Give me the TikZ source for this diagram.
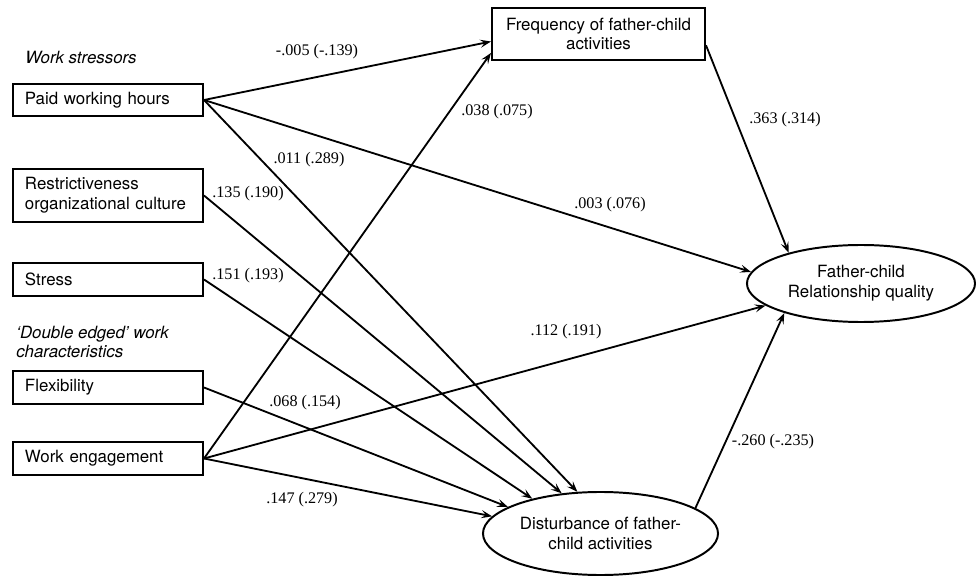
\documentclass[tikz,border=0pt]{standalone}
\usepackage{fontspec}
\setmainfont{Liberation Serif}
\setsansfont{TeX Gyre Heros}
\usetikzlibrary{arrows.meta,positioning,shapes.geometric}
\tikzset{
  varbox/.style={draw, line width=1.4pt, rectangle, anchor=west, minimum height=0.82cm,
    inner xsep=0.3cm, inner ysep=0pt, text width=4.15cm, align=left,
    font=\sffamily\fontsize{12}{14}\selectfont},
  medbox/.style={draw, line width=1.4pt, rectangle, minimum width=5.325cm, minimum height=1.3cm,
    inner sep=0pt, align=center, font=\sffamily\fontsize{12}{14}\selectfont},
  outcome/.style={draw, line width=1.4pt, ellipse, inner sep=0pt, align=center,
    font=\sffamily\fontsize{12}{14}\selectfont},
  grouphead/.style={anchor=west, align=left, inner sep=0pt,
    font=\sffamily\itshape\fontsize{12}{14}\selectfont},
  coef/.style={inner sep=0pt, font=\fontsize{11.5}{13}\selectfont},
  pathln/.style={-{Stealth[length=2.7mm,width=2mm,inset=1.1mm]}, line width=1.3pt},
}

\begin{document}
\begin{tikzpicture}[x=0.025cm, y=-0.025cm]
    \useasboundingbox (0,0) rectangle (976,577);
    % Group headings
    \node[grouphead] (hstress) at (25,57) {Work stressors};
    \node[grouphead] (hdouble) at (16,342) {`Double edged' work\\characteristics};
    % Predictors
    \node[varbox] (paid) at (12,100) {Paid working hours};
    \node[varbox, minimum height=1.325cm] (restr) at (12,195.5) {Restrictiveness\\organizational culture};
    \node[varbox] (stress) at (12,279.5) {Stress};
    \node[varbox] (flex) at (12,387.5) {Flexibility};
    \node[varbox] (engage) at (12,458.5) {Work engagement};
    % Mediators and outcome
    \node[medbox] (freq) at (598.5,34) {Frequency of father-child\\activities};
    \node[outcome, minimum width=5.875cm, minimum height=2.075cm] (disturb) at (600.5,533.5) {Disturbance of father-\\child activities};
    \node[outcome, minimum width=5.7cm, minimum height=1.925cm] (quality) at (861,283.5) {Father-child\\Relationship quality};
    % Paths to frequency
    \draw[pathln] (paid.east) -- (freq.184.5);
    \draw[pathln] (engage.east) -- (freq.190.7);
    % Paths to disturbance
    \draw[pathln] (paid.east) -- (disturb.119.5);
    \draw[pathln] (restr.east) -- (disturb.134.3);
    \draw[pathln] (stress.east) -- (disturb.153.9);
    \draw[pathln] (flex.east) -- (disturb.164.3);
    \draw[pathln] (engage.east) -- (disturb.171.5);
    % Paths to relationship quality
    \draw[pathln] (paid.east) -- (quality.174);
    \draw[pathln] (engage.east) -- (quality.193);
    \draw[pathln] (freq.354) -- (quality.157);
    \draw[pathln] (disturb.15.4) -- (quality.201.5);
    % Coefficients
    \node[coef] (cpf) at (317,52) {-.005 (-.139)};
    \node[coef] (cpd) at (309,160) {.011 (.289)};
    \node[coef] (crd) at (248,194) {.135 (.190)};
    \node[coef] (csd) at (248,276) {.151 (.193)};
    \node[coef] (cfd) at (305,403) {.068 (.154)};
    \node[coef] (ced) at (302,500) {.147 (.279)};
    \node[coef] (cef) at (497,112) {.038 (.075)};
    \node[coef] (cpq) at (610,205) {.003 (.076)};
    \node[coef] (ceq) at (566,332) {.112 (.191)};
    \node[coef] (cfq) at (785,120) {.363 (.314)};
    \node[coef] (cdq) at (773,442) {-.260 (-.235)};
\end{tikzpicture}
\end{document}
